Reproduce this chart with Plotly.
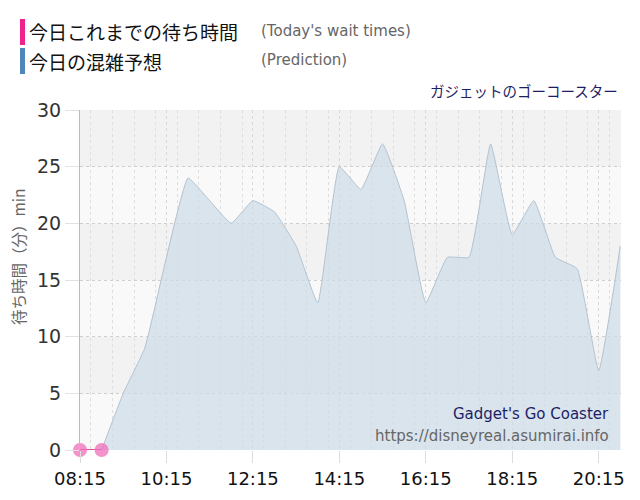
import plotly.graph_objects as go

# prediction (every 30 min)
pred_times = ["08:45", "09:15", "09:45", "10:15", "10:45", "11:15", "11:45", "12:15",
              "12:45", "13:15", "13:45", "14:15", "14:45", "15:15", "15:45", "16:15",
              "16:45", "17:15", "17:45", "18:15", "18:45", "19:15", "19:45", "20:15", "20:45"]
pred_waits = [0, 5, 9, 17, 24, 22, 20, 22, 21, 18, 13, 25, 23, 27, 22, 13,
              17, 17, 27, 19, 22, 17, 16, 7, 18]

# actual wait times so far
actual_times = ["08:15", "08:45"]
actual_waits = [0, 0]

tick_labels = ["08:15", "10:15", "12:15", "14:15", "16:15", "18:15", "20:15"]

day = "2024-01-01 "
jp = "Noto Sans CJK JP"
OFF = 8  # page body margin
L, T, W, H = 80, 110, 541, 340  # plot area, page pixels


def px(x):
    return (x - L) / W


def py(y):
    return (T + H - y) / H


fig = go.Figure()

fig.add_trace(go.Scatter(
    x=[day + t for t in pred_times], y=pred_waits,
    mode="lines", line=dict(color="#b3c3cf", width=1, shape="spline", smoothing=0.35),
    fill="tozeroy", fillcolor="rgba(205,220,232,0.7)", hoverinfo="skip"))

fig.add_trace(go.Scatter(
    x=[day + t for t in actual_times], y=actual_waits,
    mode="lines+markers", line=dict(color="#e0509c", width=2),
    marker=dict(size=14, color="rgba(240,110,185,0.75)"), cliponaxis=False))

# alternating horizontal bands
for y0 in [0, 10, 20]:
    fig.add_shape(type="rect", xref="paper", yref="y", x0=0, x1=1, y0=y0, y1=y0 + 5,
                  fillcolor="#f9f9f9", line=dict(width=0), layer="below")

fig.update_layout(
    width=640 - OFF, height=500 - OFF,
    margin=dict(l=L - OFF, r=640 - L - W, t=T - OFF, b=500 - T - H),
    paper_bgcolor="white", plot_bgcolor="#f2f2f2",
    showlegend=False,
    font=dict(family="DejaVu Sans", color="#333"),
)

fig.update_xaxes(
    type="date", range=[day + "08:15", day + "20:46"],
    tickvals=[day + t for t in tick_labels], ticktext=tick_labels,
    tickfont=dict(size=18, color="#111"),
    showgrid=True, gridcolor="#d8d8d8", griddash="3px,3px", gridwidth=1,
    minor=dict(dtick=1800000, showgrid=True, gridcolor="#dedede", griddash="3px,3px"),
    ticks="outside", ticklen=12, tickcolor="#dddddd",
    zeroline=False, showline=False, fixedrange=True, automargin=False,
)
fig.update_yaxes(
    range=[0, 30], dtick=5,
    tickfont=dict(size=19, color="#333"),
    showgrid=True, gridcolor="#cfcfcf", griddash="dot",
    ticks="outside", ticklen=14, tickcolor="#e2e2e2",
    showline=True, linecolor="#bbbbbb", zeroline=False, automargin=False,
)

ann = [
    dict(text="今日これまでの待ち時間", x=27, y=32, font=dict(size=19, color="#111", family=jp)),
    dict(text="(Today's wait times)", x=259, y=31, font=dict(size=15, color="#666")),
    dict(text="今日の混雑予想", x=27, y=61, font=dict(size=19, color="#111", family=jp)),
    dict(text="(Prediction)", x=259, y=60, font=dict(size=15, color="#666")),
]
for a in ann:
    fig.add_annotation(xref="paper", yref="paper", x=px(a["x"]), y=py(a["y"]),
                       text=a["text"], showarrow=False, xanchor="left", yanchor="middle",
                       font=a["font"])

fig.add_annotation(xref="paper", yref="paper", x=px(620), y=py(90),
                   text="ガジェットのゴーコースター", showarrow=False, xanchor="right",
                   yanchor="middle", font=dict(size=14.5, color="#1e1e66", family=jp))
fig.add_annotation(xref="paper", yref="paper", x=px(18), y=py(257),
                   text="待ち時間（分）min", showarrow=False, textangle=-90,
                   xanchor="center", yanchor="middle",
                   font=dict(size=15.5, color="#666", family=jp))
fig.add_annotation(xref="paper", yref="paper", x=px(611), y=py(414),
                   text="Gadget's Go Coaster", showarrow=False, xanchor="right",
                   yanchor="middle", font=dict(size=15, color="#1e1e66"))
fig.add_annotation(xref="paper", yref="paper", x=px(611), y=py(436),
                   text="https://disneyreal.asumirai.info", showarrow=False, xanchor="right",
                   yanchor="middle", font=dict(size=15, color="#666"))

# legend colour bars
for color, yc in [("#f0218a", 32), ("#4f87b8", 61)]:
    fig.add_shape(type="rect", xref="paper", yref="paper",
                  x0=px(20), x1=px(25), y0=py(yc + 13), y1=py(yc - 13),
                  fillcolor=color, line=dict(width=0))

fig.write_html("out.html")
